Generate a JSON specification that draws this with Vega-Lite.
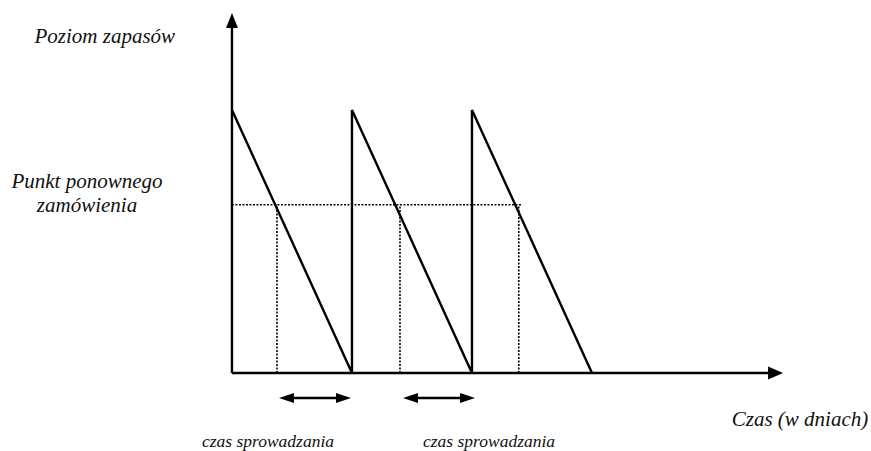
{
  "$schema": "https://vega.github.io/schema/vega-lite/v6.json",
  "width": 871,
  "height": 451,
  "autosize": {"type": "none"},
  "padding": 0,
  "background": "white",
  "config": {"view": {"stroke": null}},
  "datasets": {
    "saw": [
      {"i": 0, "t": 0, "v": 100},
      {"i": 1, "t": 10, "v": 0},
      {"i": 2, "t": 10, "v": 100},
      {"i": 3, "t": 20, "v": 0},
      {"i": 4, "t": 20, "v": 100},
      {"i": 5, "t": 30, "v": 0}
    ],
    "axes": [
      {"t": 0, "v": 0, "t2": 44.8, "v2": 0},
      {"t": 0, "v": 0, "t2": 0, "v2": 131.5}
    ],
    "dotted": [
      {"t": 0, "v": 64, "t2": 24.2, "v2": 64},
      {"t": 3.75, "v": 0, "t2": 3.75, "v2": 64},
      {"t": 14, "v": 0, "t2": 14, "v2": 64},
      {"t": 23.9, "v": 0, "t2": 23.9, "v2": 64}
    ],
    "lead": [
      {"t": 4.7, "v": -9.5, "t2": 9.1, "v2": -9.5},
      {"t": 15.05, "v": -9.5, "t2": 19.45, "v2": -9.5}
    ],
    "heads": [
      {"t": 0, "v": 136.9, "kind": "axis-up"},
      {"t": 45.92, "v": 0, "kind": "axis-right"},
      {"t": 3.92, "v": -9.5, "kind": "lead-left"},
      {"t": 9.92, "v": -9.5, "kind": "lead-right"},
      {"t": 14.25, "v": -9.5, "kind": "lead-left"},
      {"t": 20.25, "v": -9.5, "kind": "lead-right"}
    ],
    "mainLabels": [
      {"t": -10.6, "v": 125.5, "text": "Poziom zapasów"},
      {"t": -12.08, "v": 70.3, "text": "Punkt ponownego"},
      {"t": -12.08, "v": 61.2, "text": "zamówienia"},
      {"t": 47.33, "v": -20.15, "text": "Czas (w dniach)"}
    ],
    "bottomLabels": [
      {"t": 3.0, "v": -28.1, "text": "czas sprowadzania"},
      {"t": 21.42, "v": -28.1, "text": "czas sprowadzania"}
    ]
  },
  "layer": [
    {
      "data": {"name": "saw"},
      "mark": {"type": "line", "color": "black", "strokeWidth": 2.4, "strokeJoin": "miter"},
      "encoding": {
        "x": {"field": "t", "type": "quantitative", "scale": {"domain": [-19.33, 53.25], "nice": false, "zero": false}, "axis": null},
        "y": {"field": "v", "type": "quantitative", "scale": {"domain": [-29.66, 141.83], "nice": false, "zero": false}, "axis": null},
        "order": {"field": "i", "type": "quantitative"}
      }
    },
    {
      "data": {"name": "axes"},
      "mark": {"type": "rule", "color": "black", "strokeWidth": 2.4},
      "encoding": {
        "x": {"field": "t", "type": "quantitative", "scale": {"domain": [-19.33, 53.25], "nice": false, "zero": false}, "axis": null},
        "y": {"field": "v", "type": "quantitative", "scale": {"domain": [-29.66, 141.83], "nice": false, "zero": false}, "axis": null},
        "x2": {"field": "t2"},
        "y2": {"field": "v2"}
      }
    },
    {
      "data": {"name": "dotted"},
      "mark": {"type": "rule", "color": "black", "strokeWidth": 1.6, "strokeDash": [2, 1.5]},
      "encoding": {
        "x": {"field": "t", "type": "quantitative", "scale": {"domain": [-19.33, 53.25], "nice": false, "zero": false}, "axis": null},
        "y": {"field": "v", "type": "quantitative", "scale": {"domain": [-29.66, 141.83], "nice": false, "zero": false}, "axis": null},
        "x2": {"field": "t2"},
        "y2": {"field": "v2"}
      }
    },
    {
      "data": {"name": "lead"},
      "mark": {"type": "rule", "color": "black", "strokeWidth": 2.4},
      "encoding": {
        "x": {"field": "t", "type": "quantitative", "scale": {"domain": [-19.33, 53.25], "nice": false, "zero": false}, "axis": null},
        "y": {"field": "v", "type": "quantitative", "scale": {"domain": [-29.66, 141.83], "nice": false, "zero": false}, "axis": null},
        "x2": {"field": "t2"},
        "y2": {"field": "v2"}
      }
    },
    {
      "data": {"name": "heads"},
      "mark": {"type": "point", "filled": true, "color": "black", "size": 4, "opacity": 1, "strokeWidth": 0},
      "encoding": {
        "x": {"field": "t", "type": "quantitative", "scale": {"domain": [-19.33, 53.25], "nice": false, "zero": false}, "axis": null},
        "y": {"field": "v", "type": "quantitative", "scale": {"domain": [-29.66, 141.83], "nice": false, "zero": false}, "axis": null},
        "shape": {
          "field": "kind",
          "type": "nominal",
          "scale": {
            "domain": ["axis-up", "axis-right", "lead-left", "lead-right"],
            "range": ["M0,0L6,15L-6,15Z", "M0,0L-15,-6.5L-15,6.5Z", "M0,0L15,-5L15,5Z", "M0,0L-15,-5L-15,5Z"]
          },
          "legend": null
        }
      }
    },
    {
      "data": {"name": "mainLabels"},
      "mark": {"type": "text", "font": "'Liberation Serif', 'DejaVu Serif', serif", "fontStyle": "italic", "fontSize": 21, "color": "#111", "align": "center", "baseline": "alphabetic"},
      "encoding": {
        "x": {"field": "t", "type": "quantitative", "scale": {"domain": [-19.33, 53.25], "nice": false, "zero": false}, "axis": null},
        "y": {"field": "v", "type": "quantitative", "scale": {"domain": [-29.66, 141.83], "nice": false, "zero": false}, "axis": null},
        "text": {"field": "text"}
      }
    },
    {
      "data": {"name": "bottomLabels"},
      "mark": {"type": "text", "font": "'Liberation Serif', 'DejaVu Serif', serif", "fontStyle": "italic", "fontSize": 17.5, "color": "#111", "align": "center", "baseline": "alphabetic"},
      "encoding": {
        "x": {"field": "t", "type": "quantitative", "scale": {"domain": [-19.33, 53.25], "nice": false, "zero": false}, "axis": null},
        "y": {"field": "v", "type": "quantitative", "scale": {"domain": [-29.66, 141.83], "nice": false, "zero": false}, "axis": null},
        "text": {"field": "text"}
      }
    }
  ]
}
